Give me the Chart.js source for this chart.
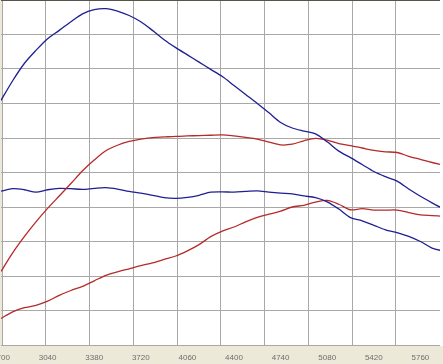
<!DOCTYPE html>
<html>
<head>
<meta charset="utf-8">
<script src="https://cdn.jsdelivr.net/npm/chart.js@4"></script>
<style>
  html, body { margin: 0; padding: 0; background: #ece9d8; }
  #dyno { display: block; background: #ece9d8; }
</style>
</head>
<body>
<canvas id="dyno" width="443" height="364"></canvas>
<script>
// rpm sample points (85 rpm steps)
const rpm = [2700, 2785, 2870, 2955, 3040, 3125, 3210, 3295, 3380, 3465, 3550, 3635, 3720,
    3805, 3890, 3975, 4060, 4145, 4230, 4315, 4400, 4485, 4570, 4655, 4740, 4825, 4910,
    4995, 5080, 5165, 5250, 5335, 5420, 5505, 5590, 5675, 5760, 5845, 5930];
const xTicks = [2700, 3040, 3380, 3720, 4060, 4400, 4740, 5080, 5420, 5760];

// blue - upper curve
const powerA = [7.09, 7.66, 8.16, 8.54, 8.88, 9.12, 9.37, 9.60, 9.72, 9.75, 9.68, 9.55, 9.37,
    9.12, 8.85, 8.62, 8.41, 8.20, 7.99, 7.78, 7.52, 7.26, 7.00, 6.73, 6.45, 6.29, 6.20,
    6.12, 5.89, 5.62, 5.43, 5.23, 5.03, 4.88, 4.75, 4.52, 4.31, 4.12, 3.94];
// red - upper curve
const powerB = [2.13, 2.67, 3.14, 3.57, 3.96, 4.32, 4.68, 5.05, 5.36, 5.63, 5.79, 5.90, 5.97,
    6.01, 6.03, 6.05, 6.06, 6.07, 6.08, 6.09, 6.06, 6.02, 5.97, 5.88, 5.80, 5.82, 5.92,
    5.99, 5.94, 5.84, 5.78, 5.71, 5.64, 5.60, 5.58, 5.47, 5.38, 5.29, 5.21];
// blue - lower curve
const torqueA = [4.46, 4.53, 4.50, 4.43, 4.50, 4.54, 4.53, 4.51, 4.54, 4.56, 4.52, 4.45, 4.40,
    4.34, 4.27, 4.25, 4.28, 4.34, 4.43, 4.44, 4.43, 4.45, 4.47, 4.43, 4.40, 4.38, 4.32,
    4.27, 4.15, 3.94, 3.69, 3.60, 3.47, 3.34, 3.26, 3.15, 3.00, 2.81, 2.72];
// red - lower curve
const torqueB = [0.77, 0.96, 1.08, 1.15, 1.27, 1.44, 1.58, 1.70, 1.86, 2.02, 2.12, 2.21, 2.30,
    2.38, 2.48, 2.58, 2.73, 2.91, 3.14, 3.30, 3.42, 3.57, 3.70, 3.79, 3.88, 4.00, 4.05,
    4.14, 4.19, 4.08, 3.92, 3.95, 3.91, 3.91, 3.91, 3.84, 3.77, 3.75, 3.73];

const BLUE = "#1f1f92";
const RED = "#b52a2a";
const GRID = "#a8a8a8";

function series(vals, color) {
    return {
        data: rpm.map((r, i) => ({ x: r, y: vals[i] })),
        borderColor: color,
        borderWidth: 1.3,
        pointRadius: 0,
        tension: 0.3,
        fill: false
    };
}

// white plot background, beige strip for the labels
const plotBg = {
    id: "plotBg",
    beforeDraw(chart) {
        const a = chart.chartArea;
        const ctx = chart.ctx;
        ctx.save();
        ctx.fillStyle = "#ffffff";
        ctx.fillRect(a.left + 1, a.top, chart.width - a.left - 1, a.bottom - a.top + 1);
        ctx.restore();
    }
};

Chart.defaults.font.family = "'Liberation Sans', Arial, sans-serif";
Chart.defaults.font.size = 8;

new Chart(document.getElementById("dyno"), {
    type: "line",
    data: {
        datasets: [
            series(powerA, BLUE),
            series(powerB, RED),
            series(torqueA, BLUE),
            series(torqueB, RED)
        ]
    },
    options: {
        responsive: false,
        animation: false,
        devicePixelRatio: 1,
        layout: { padding: { left: 0, top: 0, right: 3, bottom: 0 } },
        plugins: { legend: { display: false }, tooltip: { enabled: false } },
        scales: {
            x: {
                type: "linear",
                position: "bottom",
                min: 2700,
                max: 5903,
                grid: { display: false, drawTicks: false },
                border: { display: false },
                ticks: {
                    autoSkip: false,
                    maxRotation: 0,
                    padding: 8,
                    color: "#6e6e6e",
                    callback: v => String(v)
                },
                afterBuildTicks: s => { s.ticks = xTicks.map(v => ({ value: v })); },
                afterFit: s => { s.height = 19; s.paddingLeft = 0; s.paddingRight = 0; }
            },
            xg: {
                type: "linear",
                position: "bottom",
                min: -0.0229,
                max: 10.0114,
                grid: { color: GRID, drawTicks: false },
                border: { display: false },
                ticks: { display: false },
                afterBuildTicks: s => {
                    s.ticks = [0, 1, 2, 3, 4, 5, 6, 7, 8, 9].map(v => ({ value: v }));
                },
                afterFit: s => { s.height = 0; s.paddingLeft = 0; s.paddingRight = 0; }
            },
            y: {
                min: 0,
                max: 10,
                grid: {
                    color: c => (c.tick && c.tick.value === 10 ? "#55554a" : GRID),
                    drawTicks: false
                },
                border: { display: false },
                ticks: { display: false, stepSize: 1 },
                afterFit: s => { s.width = 1; s.paddingTop = 0; s.paddingBottom = 0; }
            }
        }
    },
    plugins: [plotBg]
});
</script>
</body>
</html>
